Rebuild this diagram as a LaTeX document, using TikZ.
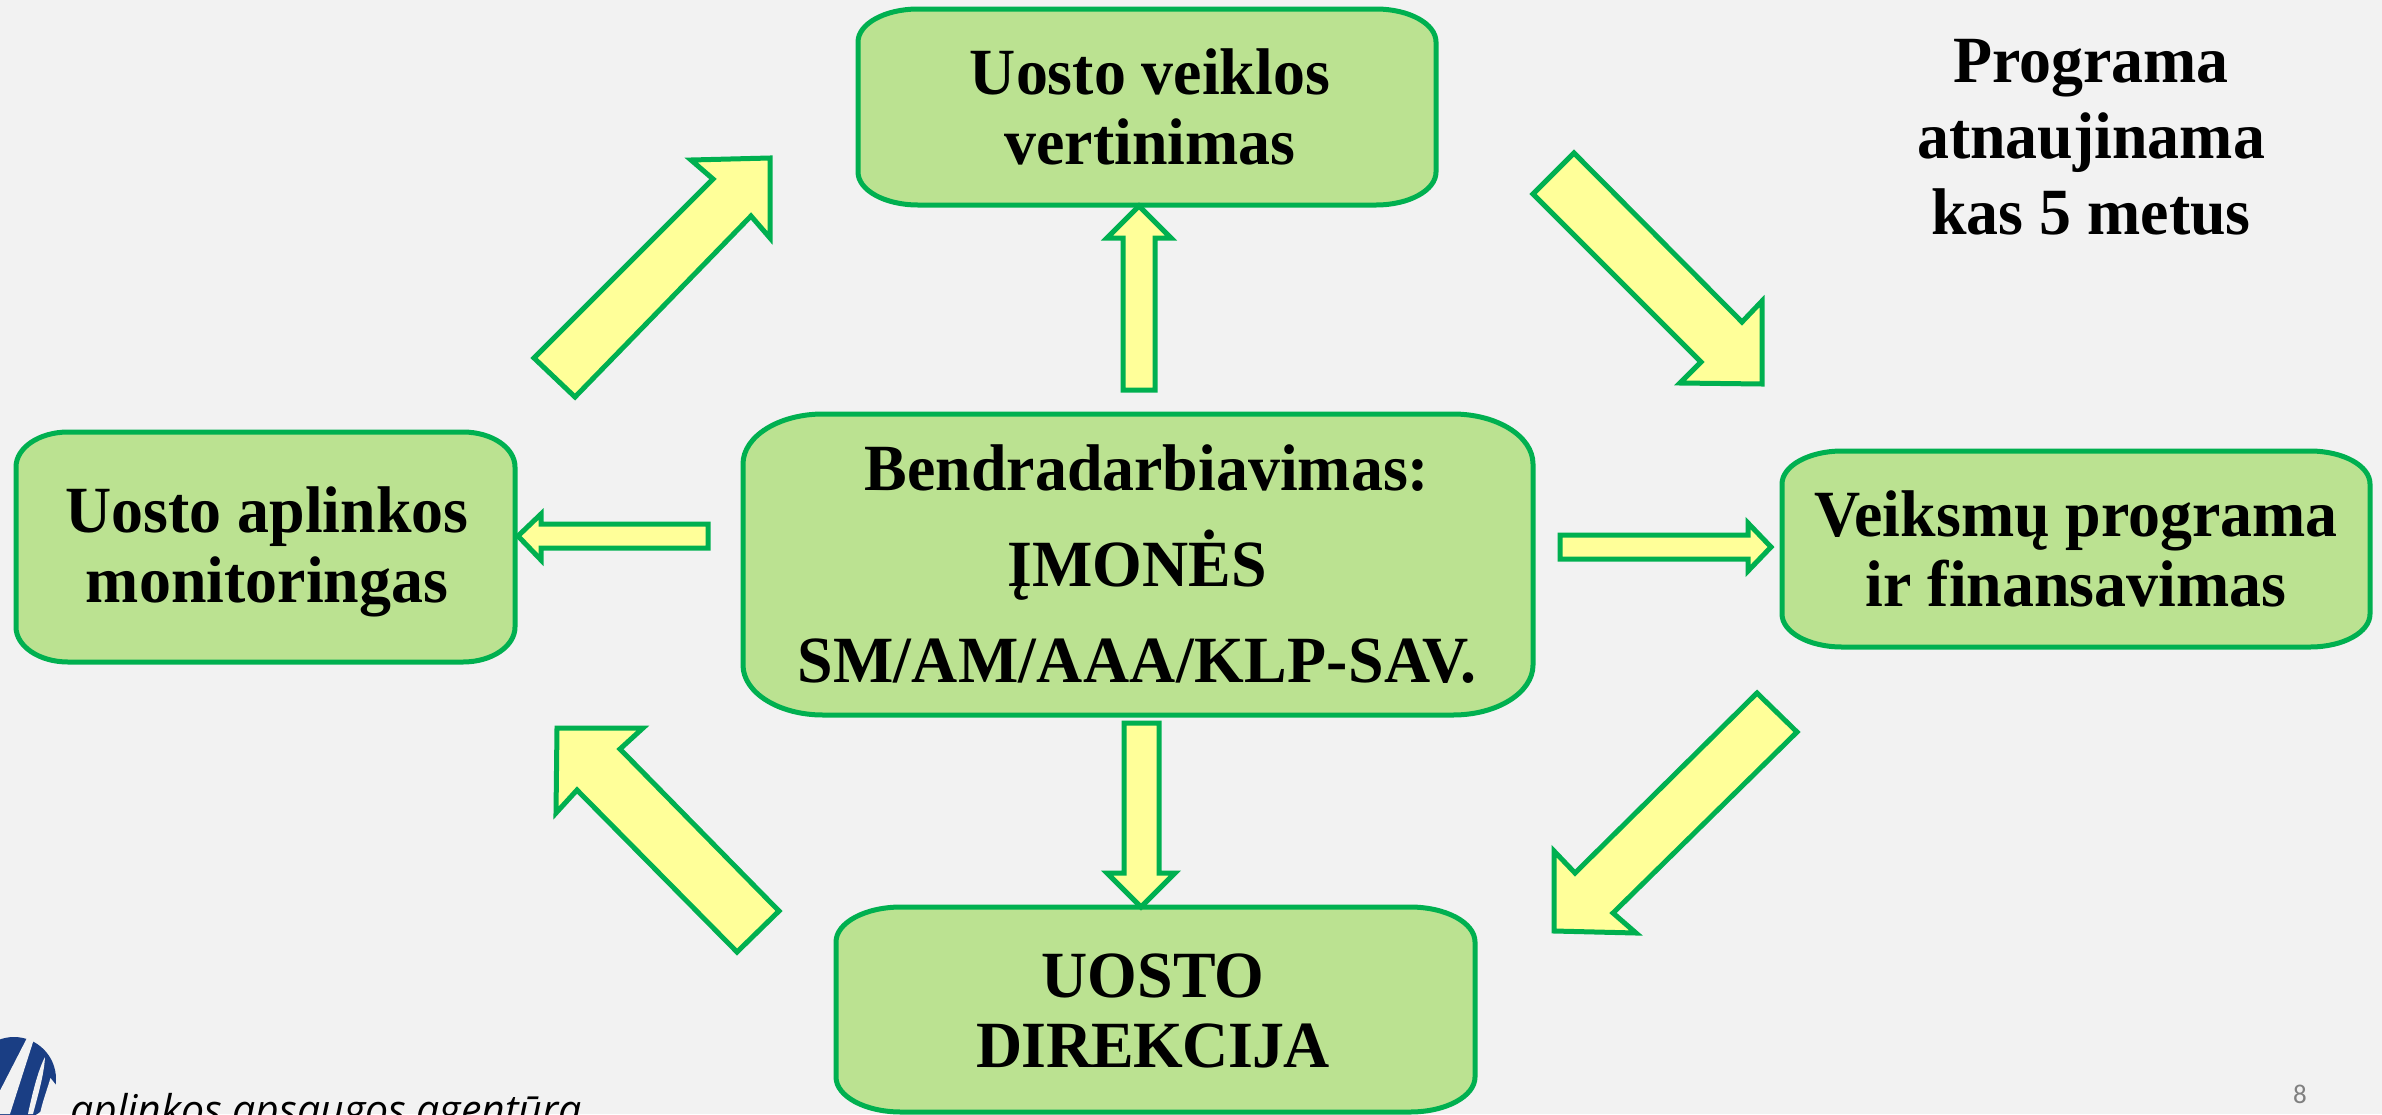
\documentclass[tikz,border=0pt]{standalone}
\usepackage{fontspec}
\setmainfont[FakeStretch=0.968]{Liberation Serif}
\newfontfamily\logofont{Open Sans}
\newfontfamily\numfont{Carlito}
\definecolor{pagebg}{HTML}{F2F2F2}
\definecolor{edgegreen}{HTML}{00B050}
\definecolor{boxgreen}{HTML}{BBE291}
\definecolor{arrowyellow}{HTML}{FFFF99}
\definecolor{logoblue}{HTML}{1A3E84}
\tikzset{
  x=1pt,y=-1pt,
  boxshape/.style={draw=edgegreen,fill=boxgreen,line width=5pt},
  blockarrow/.style={draw=edgegreen,fill=arrowyellow,line width=5pt,miter limit=10},
  lbl/.style={inner sep=0pt,align=center,font=\fontsize{66}{70}\selectfont\bfseries}
}
% rounded box with elliptical corners: x0 y0 x1 y1 rx ry
\newcommand{\ellbox}[6]{%
  \pgfmathsetmacro{\cx}{0.4477*#5}\pgfmathsetmacro{\cy}{0.4477*#6}%
  \draw[boxshape] ({#1+#5},#2) -- ({#3-#5},#2)
    .. controls ({#3-\cx},#2) and (#3,{#2+\cy}) .. (#3,{#2+#6})
    -- (#3,{#4-#6})
    .. controls (#3,{#4-\cy}) and ({#3-\cx},#4) .. ({#3-#5},#4)
    -- ({#1+#5},#4)
    .. controls ({#1+\cx},#4) and (#1,{#4-\cy}) .. (#1,{#4-#6})
    -- (#1,{#2+#6})
    .. controls (#1,{#2+\cy}) and ({#1+\cx},#2) .. ({#1+#5},#2) -- cycle;}
\begin{document}
\begin{tikzpicture}
\path[use as bounding box,fill=pagebg] (0,0) rectangle (2382,1114);
% boxes
\ellbox{858}{9}{1436}{205}{60}{33}
\ellbox{16}{432}{515}{662}{52}{35}
\ellbox{743}{414}{1533}{715}{80}{50}
\ellbox{1782}{451}{2370}{647}{60}{33}
\ellbox{836}{907}{1475}{1112}{65}{35}
\node[lbl] (top) at (1150,107) {Uosto veiklos\\vertinimas};
\node[lbl] (left) at (267,552) {Uosto aplinkos\\monitoringas};
\node[lbl,font=\fontsize{66}{96}\selectfont\bfseries] (center) at (1137,564) {\hspace*{20pt}Bendradarbiavimas:\\ĮMONĖS\\{\addfontfeature{LetterSpace=0.5}SM/AM/AAA/KLP-SAV.}};
\node[lbl] (right) at (2076,549) {Veiksmų programa\\ir finansavimas};
\node[lbl] (bottom) at (1153,1011) {UOSTO\\{\addfontfeature{LetterSpace=-1}DIREKCIJA}};
\node[lbl,font=\fontsize{66}{76}\selectfont\bfseries] (note) at (2091,137) {Programa\\atnaujinama\\kas 5 metus};
% arrows
\draw[blockarrow] (534,358) -- (713,179) -- (691,160) -- (770,158) -- (770,238) -- (751,216) -- (575,397) -- cycle;
\draw[blockarrow] (1574,153) -- (1533,194) -- (1701,362) -- (1680,383) -- (1762,384) -- (1762,301) -- (1742,322) -- cycle;
\draw[blockarrow] (1560,535) -- (1560,559) -- (1748,559) -- (1748,571) -- (1771,547) -- (1748,523) -- (1748,535) -- cycle;
\draw[blockarrow] (708,524) -- (708,548) -- (541,548) -- (541,560) -- (518,536) -- (541,514) -- (541,524) -- cycle;
\draw[blockarrow] (1124,723) -- (1159,723) -- (1159,873) -- (1175,873) -- (1141,907) -- (1107,873) -- (1124,873) -- cycle;
\draw[blockarrow] (1757,693) -- (1797,732) -- (1613,913) -- (1636,933) -- (1554,931) -- (1554,851) -- (1575,873) -- cycle;
\draw[blockarrow] (779,911) -- (737,952) -- (577,790) -- (556,813) -- (557,728) -- (643,728) -- (620,749) -- cycle;
\draw[blockarrow] (1123,390) -- (1155,390) -- (1155,238) -- (1171,238) -- (1139,206) -- (1107,238) -- (1123,238) -- cycle;
% logo
\begin{scope}
\clip (0,0) rectangle (2382,1114);
\fill[logoblue] (14,1079) circle[radius=42];
\fill[pagebg] (28,1036) -- (34,1039) -- (10,1114) -- (-12,1114) -- cycle;
\fill[pagebg] (45,1057) .. controls (38,1070) and (32,1095) .. (28,1114) -- (33,1114) .. controls (38,1095) and (44,1075) .. (45,1057) -- cycle;
\fill[pagebg] (50.5,1078) .. controls (47,1090) and (42,1103) .. (40,1114) -- (60,1114) -- (60,1090) -- cycle;
\end{scope}
\node[font=\logofont\itshape\fontsize{41}{44}\selectfont,anchor=base west,inner sep=0pt] (logotext) at (70,1124) {aplinkos apsaugos agentūra};
\node[font=\numfont\fontsize{27}{30}\selectfont,text=black!50,anchor=base,inner sep=0pt] (pagenum) at (2300,1103) {8};
\end{tikzpicture}
\end{document}
